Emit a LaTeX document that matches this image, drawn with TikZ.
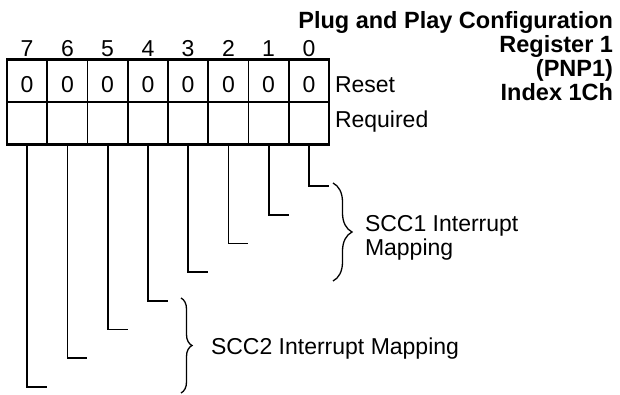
\documentclass[tikz,border=0pt]{standalone}
\usepackage{fontspec}
\setmainfont{Liberation Sans}
\usetikzlibrary{decorations.pathreplacing}
\tikzset{every node/.style={inner sep=0pt, outer sep=0pt, font=\fontsize{23}{24.3}\selectfont}}
\tikzset{cell/.style={draw, line width=1.6pt, minimum width=40.25pt, minimum height=42.5pt}, bitval/.style={cell, text height=24pt}, lead/.style={line width=1.8pt}, curly/.style={line width=1.3pt, decorate, decoration={brace, aspect=0.5}}}

\begin{document}
\begin{tikzpicture}[x=1pt,y=-1pt]
   \useasboundingbox (0,0) rectangle (620,395);
   % title
   \node[anchor=north east, align=right, font=\fontsize{23.5}{24.3}\selectfont\bfseries] (title) at (613,11)
      {Plug and Play Configuration\\Register 1\\(PNP1)\\Index 1Ch};
   % bit numbers
   \node[anchor=base] (bit7) at ( 27.1,57) {7};
   \node[anchor=base] (bit6) at ( 67.4,57) {6};
   \node[anchor=base] (bit5) at (107.6,57) {5};
   \node[anchor=base] (bit4) at (147.9,57) {4};
   \node[anchor=base] (bit3) at (188.1,57) {3};
   \node[anchor=base] (bit2) at (228.4,57) {2};
   \node[anchor=base] (bit1) at (268.6,57) {1};
   \node[anchor=base] (bit0) at (308.9,57) {0};
   % reset row
   \node[bitval] (rst7) at ( 27.1,80.75) {0};
   \node[bitval] (rst6) at ( 67.4,80.75) {0};
   \node[bitval] (rst5) at (107.6,80.75) {0};
   \node[bitval] (rst4) at (147.9,80.75) {0};
   \node[bitval] (rst3) at (188.1,80.75) {0};
   \node[bitval] (rst2) at (228.4,80.75) {0};
   \node[bitval] (rst1) at (268.6,80.75) {0};
   \node[bitval] (rst0) at (308.9,80.75) {0};
   % required row
   \node[cell] (req7) at ( 27.1,123.25) {};
   \node[cell] (req6) at ( 67.4,123.25) {};
   \node[cell] (req5) at (107.6,123.25) {};
   \node[cell] (req4) at (147.9,123.25) {};
   \node[cell] (req3) at (188.1,123.25) {};
   \node[cell] (req2) at (228.4,123.25) {};
   \node[cell] (req1) at (268.6,123.25) {};
   \node[cell] (req0) at (308.9,123.25) {};
   \draw[line width=2.8pt] (rst7.north west) rectangle (req0.south east);
   \node[anchor=base west] (reset) at (335,93) {Reset};
   \node[anchor=base west] (required) at (335,128) {Required};
   % lead ends
   \coordinate (end0) at (328.9,186.0);
   \coordinate (end1) at (288.6,214.7);
   \coordinate (end2) at (248.4,243.4);
   \coordinate (end3) at (208.1,272.1);
   \coordinate (end4) at (167.9,300.8);
   \coordinate (end5) at (127.6,329.5);
   \coordinate (end6) at ( 87.4,358.2);
   \coordinate (end7) at ( 47.1,386.9);
   \draw[lead] (req0.south) |- (end0);
   \draw[lead] (req1.south) |- (end1);
   \draw[lead] (req2.south) |- (end2);
   \draw[lead] (req3.south) |- (end3);
   \draw[lead] (req4.south) |- (end4);
   \draw[lead] (req5.south) |- (end5);
   \draw[lead] (req6.south) |- (end6);
   \draw[lead] (req7.south) |- (end7);
   % braces
   \coordinate (scc1top) at (333,183);
   \coordinate (scc1bot) at (333,281);
   \coordinate (scc2top) at (181,298);
   \coordinate (scc2bot) at (181,393);
   \draw[curly, decoration={amplitude=19pt}] (scc1top) -- (scc1bot);
   \draw[curly, decoration={amplitude=11pt}] (scc2top) -- (scc2bot);
   \node[anchor=north west, align=left] (scc1) at (365,215) {SCC1 Interrupt\\Mapping};
   \node[anchor=base west] (scc2) at (211,354) {SCC2 Interrupt Mapping};
\end{tikzpicture}
\end{document}
